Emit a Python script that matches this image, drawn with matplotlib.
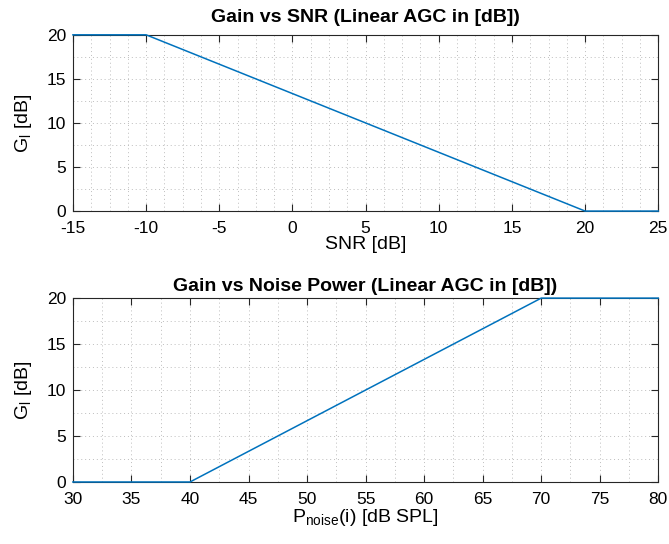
import matplotlib.pyplot as plt
from matplotlib.ticker import MultipleLocator

plt.rcParams['font.family'] = ['Liberation Sans', 'DejaVu Sans']
plt.rcParams['axes.unicode_minus'] = False

# Gain vs SNR
snr = [-15, -10, 20, 25]
gain_snr = [20, 20, 0, 0]

# Gain vs noise power
p_noise = [30, 40, 70, 80]
gain_noise = [0, 0, 20, 20]

line_color = '#0072bd'
grid_kw = dict(color='#bdbdbd', linestyle=(0, (1, 3)), linewidth=0.7)

fig = plt.figure(figsize=(6.69, 5.44), dpi=100)
ax1 = fig.add_axes([0.109, 0.612, 0.875, 0.324])
ax2 = fig.add_axes([0.109, 0.114, 0.875, 0.338])


def style_axes(ax, xmin, xmax, xminor):
    ax.set_xlim(xmin, xmax)
    ax.set_ylim(0, 20)
    ax.xaxis.set_major_locator(MultipleLocator(5))
    ax.xaxis.set_minor_locator(MultipleLocator(xminor))
    ax.yaxis.set_major_locator(MultipleLocator(5))
    ax.yaxis.set_minor_locator(MultipleLocator(2.5))
    ax.grid(True, which='major', **grid_kw)
    ax.grid(True, which='minor', **grid_kw)
    ax.tick_params(which='major', direction='in', top=True, right=True,
                   length=5, width=0.8, labelsize=12.5, color='#262626')
    ax.tick_params(axis='x', which='major', pad=7)
    ax.tick_params(axis='y', which='major', pad=5)
    ax.tick_params(which='minor', length=0)
    for s in ax.spines.values():
        s.set_color('#262626')
        s.set_linewidth(0.8)
    ax.set_axisbelow(True)


ax1.plot(snr, gain_snr, color=line_color, linewidth=1.1, clip_on=False, zorder=5)
style_axes(ax1, -15, 25, 1.25)
ax1.set_title('Gain vs SNR (Linear AGC in [dB])', fontsize=14,
              fontweight='bold', pad=9)
ax1.set_xlabel('SNR [dB]', fontsize=14, labelpad=0)
ax1.set_ylabel('G$_{\\mathregular{l}}$ [dB]', fontsize=14, labelpad=9)

ax2.plot(p_noise, gain_noise, color=line_color, linewidth=1.1, clip_on=False, zorder=5)
style_axes(ax2, 30, 80, 2.5)
ax2.set_title('Gain vs Noise Power (Linear AGC in [dB])', fontsize=14,
              fontweight='bold', pad=5)
ax2.set_xlabel('P$_{\\mathregular{noise}}$(i) [dB SPL]', fontsize=14, labelpad=0)
ax2.set_ylabel('G$_{\\mathregular{l}}$ [dB]', fontsize=14, labelpad=9)

fig.savefig('out.png', dpi=100)
